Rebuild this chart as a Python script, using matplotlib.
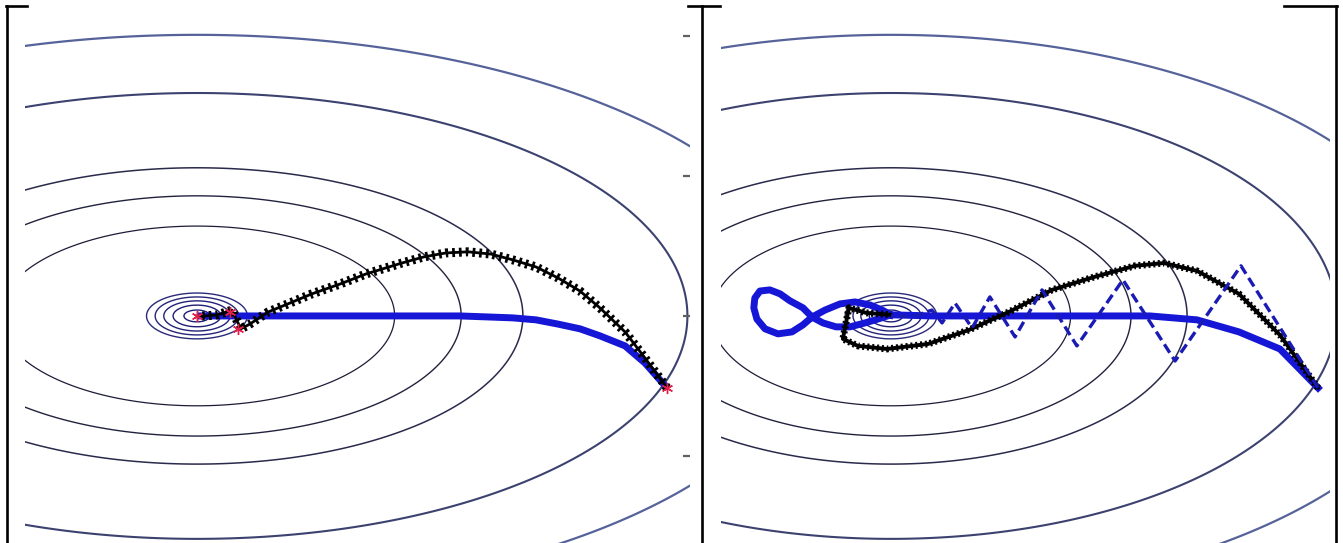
#!/usr/bin/env python3

import numpy as np
import matplotlib
matplotlib.use('Agg')
import matplotlib.pyplot as plt
from matplotlib.lines import Line2D

W, H = 1343, 543

# contour levels of f = (x / 2.2)^2 + y^2
tiny_levels = [0.00045, 0.0015, 0.0029, 0.0046, 0.0067]
big_levels = [0.103, 0.184, 0.280, 0.634, 1.008]
level_colors = ['#1e1e78', '#1e1e78', '#22227a', '#26267a', '#2a2a7a',
                '#1c1c38', '#22223e', '#2a2a4c', '#3c4270', '#56639a']
level_widths = [1.0, 1.0, 1.0, 1.0, 1.0, 0.9, 1.0, 1.1, 1.5, 1.6]
ellipse_ratio = 2.2

# left panel: gradient descent (blue) and momentum (black)
left_blue_x = [1.679, 1.600, 1.529, 1.439, 1.368, 1.289, 1.211, 1.129, 1.050, 0.939, 0.125, 0.0]
left_blue_y = [-0.257, -0.168, -0.107, -0.071, -0.046, -0.029, -0.014, -0.007, -0.004, 0.0, 0.0, 0.0]

left_black_x = [1.679, 1.600, 1.529, 1.439, 1.368, 1.289, 1.211, 1.129, 1.050, 0.968, 0.889,
                0.811, 0.732, 0.604, 0.511, 0.411, 0.332, 0.254, 0.189, 0.157, 0.125,
                0.075, 0.029, 0.0]
left_black_y = [-0.257, -0.150, -0.057, 0.029, 0.089, 0.136, 0.175, 0.200, 0.221, 0.229, 0.225,
                0.211, 0.189, 0.150, 0.114, 0.079, 0.046, 0.014, -0.029, -0.046, 0.021,
                0.004, 0.0, 0.0]

star_x = [1.679, 0.146, 0.118, 0.0]
star_y = [-0.257, -0.046, 0.014, 0.0]

# right panel: three optimisers
right_blue_x = [1.679, 1.529, 1.368, 1.203, 1.018, 0.161, 0.0,
                -0.051, -0.102, -0.161, -0.216, -0.267, -0.310,
                -0.346, -0.397, -0.436, -0.476, -0.515, -0.535, -0.539,
                -0.527, -0.495, -0.444, -0.389, -0.346, -0.310,
                -0.259, -0.200, -0.141, -0.082, -0.035, 0.0]
right_blue_y = [-0.257, -0.118, -0.057, -0.014, 0.0, 0.0, 0.004,
                -0.011, -0.025, -0.039, -0.039, -0.025, -0.004,
                0.029, 0.054, 0.079, 0.093, 0.089, 0.064, 0.029,
                -0.011, -0.046, -0.064, -0.057, -0.032, -0.004,
                0.021, 0.043, 0.050, 0.039, 0.021, 0.004]

right_black_x = [1.679, 1.529, 1.368, 1.203, 1.073, 0.959, 0.798, 0.633, 0.472, 0.307, 0.146,
                 -0.016, -0.130, -0.189, -0.165, -0.098, 0.0]
right_black_y = [-0.257, -0.068, 0.079, 0.161, 0.189, 0.179, 0.139, 0.093, 0.018, -0.050, -0.100,
                 -0.118, -0.107, -0.082, 0.029, 0.011, 0.004]

right_dash_x = [1.679, 1.376, 1.117, 0.912, 0.731, 0.594, 0.488, 0.389, 0.319, 0.252, 0.201,
                0.161, 0.094, 0.0]
right_dash_y = [-0.257, 0.179, -0.161, 0.129, -0.107, 0.093, -0.075, 0.068, -0.043, 0.046, -0.025,
                0.021, 0.0, 0.0]

yticks = [-0.5, 0.0, 0.5, 1.0]


def px_box(x0, x1, y0, y1):
    """pixel box (top-left origin) -> figure fraction rect"""
    return [x0 / W, 1 - y1 / H, (x1 - x0) / W, (y1 - y0) / H]


def draw_contours(ax):
    gx = np.linspace(-3.0, 3.0, 900)
    gy = np.linspace(-1.4, 1.4, 500)
    xx, yy = np.meshgrid(gx, gy)
    f = (xx / ellipse_ratio) ** 2 + yy ** 2
    ax.contour(xx, yy, f, levels=tiny_levels + big_levels,
               colors=level_colors, linewidths=level_widths, zorder=1)


def beaded(ax, x, y, core_lw, bead_lw, dashes, color, z):
    ax.plot(x, y, color=color, lw=core_lw, solid_capstyle='round',
            solid_joinstyle='round', zorder=z)
    ax.plot(x, y, color=color, lw=bead_lw, dashes=dashes, zorder=z)


fig = plt.figure(figsize=(W / 100, H / 100), dpi=100)
fig.patch.set_facecolor('white')

# left panel
ax1 = fig.add_axes(px_box(25, 690, 20, 543))
draw_contours(ax1)
ax1.plot(left_blue_x, left_blue_y, color='#1616d6', lw=5.0, solid_capstyle='butt',
         solid_joinstyle='round', zorder=3)
beaded(ax1, left_black_x, left_black_y, 2.0, 6.5, (0.3, 0.45), 'black', 4)
ax1.plot(star_x, star_y, ls='none', marker=(6, 2, 0), ms=8, mew=1.0,
         color='#e0204a', zorder=5)
ax1.set_xlim(-0.614, 1.761)
ax1.set_ylim(-0.811, 1.057)
ax1.set_xticks([])
ax1.yaxis.tick_right()
ax1.set_yticks(yticks)
ax1.tick_params(axis='y', direction='in', length=5, width=1.6, colors='#606060',
                labelright=False)
for s in ax1.spines.values():
    s.set_visible(False)

# right panel
ax2 = fig.add_axes(px_box(721, 1330, 20, 543))
draw_contours(ax2)
ax2.plot(right_blue_x, right_blue_y, color='#1616d6', lw=5.0, solid_joinstyle='round', zorder=3)
beaded(ax2, right_black_x, right_black_y, 2.8, 5.0, (0.3, 0.4), 'black', 4)
ax2.plot(right_dash_x, right_dash_y, color='#1a1ab4', lw=2.4, dashes=(3.0, 1.5), zorder=5)
ax2.set_xlim(-0.668, 1.726)
ax2.set_ylim(-0.811, 1.057)
ax2.set_xticks([])
ax2.set_yticks([])
for s in ax2.spines.values():
    s.set_visible(False)

# table cell borders around the two pictures
borders = [((7, 7), (6, 543)), ((702, 702), (6, 543)), ((1336, 1336), (6, 543)),
           ((6, 27), (6, 6)), ((688, 720), (6, 6)), ((1284, 1337), (6, 6))]
for bx, by in borders:
    fig.add_artist(Line2D([v / W for v in bx], [1 - v / H for v in by],
                          transform=fig.transFigure, color='black', lw=1.9))

fig.savefig('out.png', dpi=100)
